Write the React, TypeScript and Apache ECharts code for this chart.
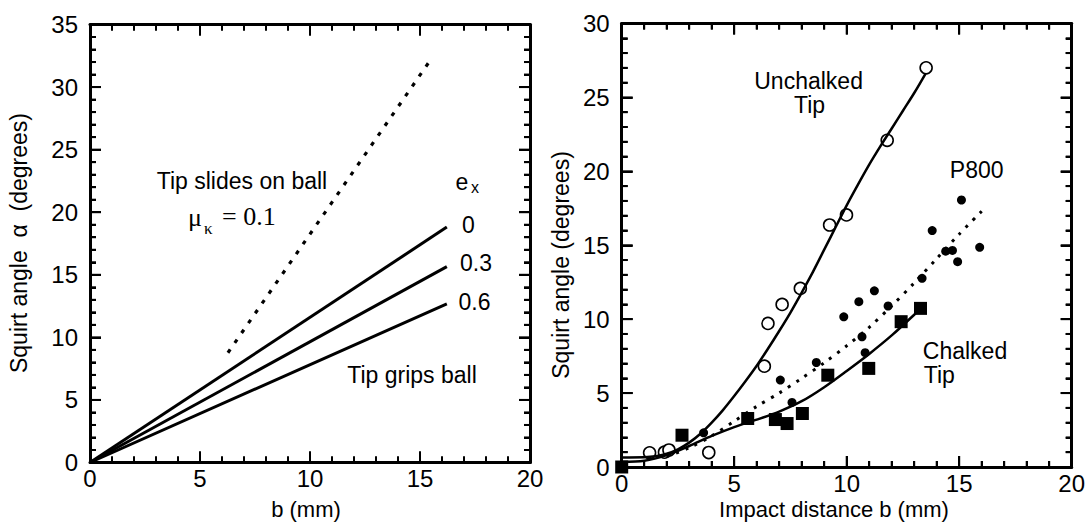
import React, { useEffect, useRef } from "react";
import * as echarts from "echarts";

// ---------- Left panel data ----------
const leftXRange = [0, 20];
const leftYRange = [0, 35];
const slidesLine = [[6.27, 8.77], [15.56, 32.38]];
const grip0 = [[0, 0], [16.22, 18.81]];
const grip03 = [[0, 0], [16.22, 15.65]];
const grip06 = [[0, 0], [16.22, 12.68]];

// ---------- Right panel data ----------
const rightXRange = [0, 20];
const rightYRange = [0, 30];
const unchalkedPts = [
  [1.24, 0.96], [1.9, 1.0], [2.1, 1.15], [3.87, 0.98], [6.34, 6.82], [6.5, 9.71],
  [7.13, 11.0], [7.94, 12.08], [9.24, 16.37], [9.99, 17.05], [11.8, 22.1], [13.53, 27.0],
];
const chalkedPts = [
  [0, 0], [2.68, 2.15], [5.6, 3.28], [6.83, 3.21], [7.35, 2.94], [8.03, 3.62],
  [9.16, 6.21], [10.98, 6.67], [12.42, 9.83], [13.28, 10.73],
];
const p800Pts = [
  [3.64, 2.31], [7.05, 5.88], [7.57, 4.37], [8.65, 7.07], [9.87, 10.16], [10.54, 11.18],
  [11.23, 11.92], [10.68, 8.81], [10.82, 7.73], [11.84, 10.89], [13.35, 12.76],
  [13.8, 15.99], [14.4, 14.6], [14.7, 14.65], [14.93, 13.89], [15.1, 18.06], [15.91, 14.86],
];
const unchalkedFit = [
  [0, 0.65], [1, 0.66], [1.5, 0.72], [2, 0.9], [2.5, 1.2], [3, 1.65], [3.5, 2.25], [4, 3.0],
  [4.5, 3.85], [5, 4.8], [5.5, 5.8], [6, 6.85], [6.5, 8.0], [7, 9.2], [7.5, 10.45], [8, 11.8],
  [8.5, 13.2], [9, 14.7], [9.5, 16.2], [10, 17.7], [10.5, 19.1], [11, 20.45], [11.5, 21.7],
  [12, 22.9], [12.5, 24.1], [13, 25.3], [13.5, 26.6],
];
const chalkedFit = [
  [0, 0.35], [1, 0.42], [2, 0.8], [3, 1.42], [4, 2.1], [5, 2.7], [6, 3.2], [7, 3.75],
  [8, 4.45], [9, 5.4], [10, 6.5], [11, 7.65], [12, 8.9], [13, 10.3], [13.3, 10.75],
];
const p800Fit = [
  [2, 0.7], [3, 1.3], [4, 2.1], [5, 3.1], [6, 4.1], [7, 5.0], [8, 6.0], [9, 7.05], [10, 8.2],
  [11, 9.45], [12, 10.9], [13, 12.45], [14, 14.1], [15, 15.75], [16, 17.3],
];

// tick steps
const MAJOR_STEP = 5;
const MINOR_STEP = 1;

const SANS = "Liberation Sans";
const SERIF = "Liberation Serif";

function axis(gridIndex: number, position: string, range: number[], showLabel: boolean, margin: number) {
  return {
    type: "value",
    gridIndex,
    position,
    min: range[0],
    max: range[1],
    interval: MAJOR_STEP,
    axisLine: { show: true, onZero: false, lineStyle: { color: "#000", width: 3 } },
    axisTick: { show: true, inside: true, length: 11, lineStyle: { color: "#000", width: 2 } },
    minorTick: { show: true, splitNumber: 5, length: 6, lineStyle: { color: "#000", width: 2 } },
    splitLine: { show: false },
    minorSplitLine: { show: false },
    axisLabel: {
      show: showLabel,
      color: "#000",
      fontSize: 24,
      fontFamily: SANS,
      margin,
    },
  };
}

// Tick marks on all four sides of a panel, drawn as thin rect symbols placed by the axes' scales.
function tickItems(xr: number[], yr: number[]) {
  const items: any[] = [];
  for (let v = xr[0]; v <= xr[1]; v += MINOR_STEP) {
    const len = v % MAJOR_STEP === 0 ? 11 : 6;
    items.push({ value: [v, yr[0]], symbolSize: [2, len], symbolOffset: [0, -len / 2] });
    items.push({ value: [v, yr[1]], symbolSize: [2, len], symbolOffset: [0, len / 2] });
  }
  for (let v = yr[0]; v <= yr[1]; v += MINOR_STEP) {
    const len = v % MAJOR_STEP === 0 ? 11 : 6;
    items.push({ value: [xr[0], v], symbolSize: [len, 2], symbolOffset: [len / 2, 0] });
    items.push({ value: [xr[1], v], symbolSize: [len, 2], symbolOffset: [-len / 2, 0] });
  }
  return items;
}

function tickSeries(xi: number, yi: number, xr: number[], yr: number[]) {
  return {
    type: "scatter",
    xAxisIndex: xi,
    yAxisIndex: yi,
    symbol: "rect",
    silent: true,
    clip: false,
    z: 5,
    itemStyle: { color: "#000", opacity: 1 },
    data: tickItems(xr, yr),
  };
}

function txt(text: string, x: number, y: number, opts: any = {}) {
  return {
    type: "text",
    x,
    y,
    rotation: opts.rotation || 0,
    z: 20,
    style: {
      text,
      fill: "#000",
      fontSize: opts.size || 23,
      fontFamily: opts.family || SANS,
      align: opts.align || "center",
      verticalAlign: "middle",
    },
  };
}

const texts = [
  txt("b (mm)", 306, 509, { size: 22 }),
  txt("Squirt angle  α  (degrees)", 19, 243, { rotation: Math.PI / 2 }),
  txt("Impact distance b (mm)", 834, 509, { size: 22 }),
  txt("Squirt angle (degrees)", 561, 265, { rotation: Math.PI / 2 }),
  txt("Tip slides on ball", 242, 180.5),
  txt("μ", 188, 217, { family: SERIF, size: 26, align: "left" }),
  txt("κ", 204, 228, { family: SERIF, size: 17, align: "left" }),
  txt("= 0.1", 222, 216, { family: SERIF, size: 26, align: "left" }),
  txt("e", 462, 182),
  txt("x", 475, 187, { size: 16 }),
  txt("0", 468.5, 225),
  txt("0.3", 476, 263),
  txt("0.6", 474.5, 302),
  txt("Tip grips ball", 412, 374.5),
  txt("Unchalked", 808.6, 81),
  txt("Tip", 809.6, 105),
  txt("P800", 976.7, 170),
  txt("Chalked", 922.8, 351, { align: "left" }),
  txt("Tip", 923.8, 374.5, { align: "left" }),
];

export default function App() {
  const ref = useRef<HTMLDivElement>(null);
  useEffect(() => {
    if (!ref.current) return;
    const chart = echarts.init(ref.current, null, { renderer: "svg" });
    const solid = (w: number) => ({ color: "#000", width: w, type: "solid" });
    const option: any = {
      animation: false,
      backgroundColor: "#fff",
      grid: [
        { left: 90, top: 24.5, width: 440, height: 438 },
        { left: 621.7, top: 23.5, width: 450, height: 443.5 },
      ],
      xAxis: [
        axis(0, "bottom", leftXRange, true, 4),
        axis(0, "top", leftXRange, false, 4),
        axis(1, "bottom", rightXRange, true, 4),
        axis(1, "top", rightXRange, false, 4),
      ],
      yAxis: [
        axis(0, "left", leftYRange, true, 12),
        axis(0, "right", leftYRange, false, 12),
        axis(1, "left", rightYRange, true, 12),
        axis(1, "right", rightYRange, false, 12),
      ],
      series: [
        tickSeries(0, 0, leftXRange, leftYRange),
        tickSeries(2, 2, rightXRange, rightYRange),

        { type: "line", xAxisIndex: 0, yAxisIndex: 0, data: slidesLine, symbol: "none",
          lineStyle: { color: "#000", width: 3.2, type: [4, 8] } },
        { type: "line", xAxisIndex: 0, yAxisIndex: 0, data: grip0, symbol: "none", lineStyle: solid(3) },
        { type: "line", xAxisIndex: 0, yAxisIndex: 0, data: grip03, symbol: "none", lineStyle: solid(3) },
        { type: "line", xAxisIndex: 0, yAxisIndex: 0, data: grip06, symbol: "none", lineStyle: solid(3) },

        { type: "line", xAxisIndex: 2, yAxisIndex: 2, data: unchalkedFit, symbol: "none", smooth: 0.3,
          lineStyle: solid(2.5) },
        { type: "line", xAxisIndex: 2, yAxisIndex: 2, data: chalkedFit, symbol: "none", smooth: 0.3,
          lineStyle: solid(2.5) },
        { type: "line", xAxisIndex: 2, yAxisIndex: 2, data: p800Fit, symbol: "none", smooth: 0.3,
          lineStyle: { color: "#000", width: 3, type: [3, 7] } },
        { type: "scatter", xAxisIndex: 2, yAxisIndex: 2, data: unchalkedPts, symbol: "circle", symbolSize: 12,
          clip: false, itemStyle: { color: "#fff", borderColor: "#000", borderWidth: 1.6, opacity: 1 } },
        { type: "scatter", xAxisIndex: 2, yAxisIndex: 2, data: chalkedPts, symbol: "rect", symbolSize: 13,
          clip: false, itemStyle: { color: "#000", opacity: 1 } },
        { type: "scatter", xAxisIndex: 2, yAxisIndex: 2, data: p800Pts, symbol: "circle", symbolSize: 9,
          clip: false, itemStyle: { color: "#000", opacity: 1 } },
      ],
      graphic: texts,
    };
    chart.setOption(option);
    return () => chart.dispose();
  }, []);
  return (
    <div
      ref={ref}
      style={{ position: "absolute", left: 0, top: 0, width: 1091, height: 529, background: "#fff" }}
    />
  );
}
